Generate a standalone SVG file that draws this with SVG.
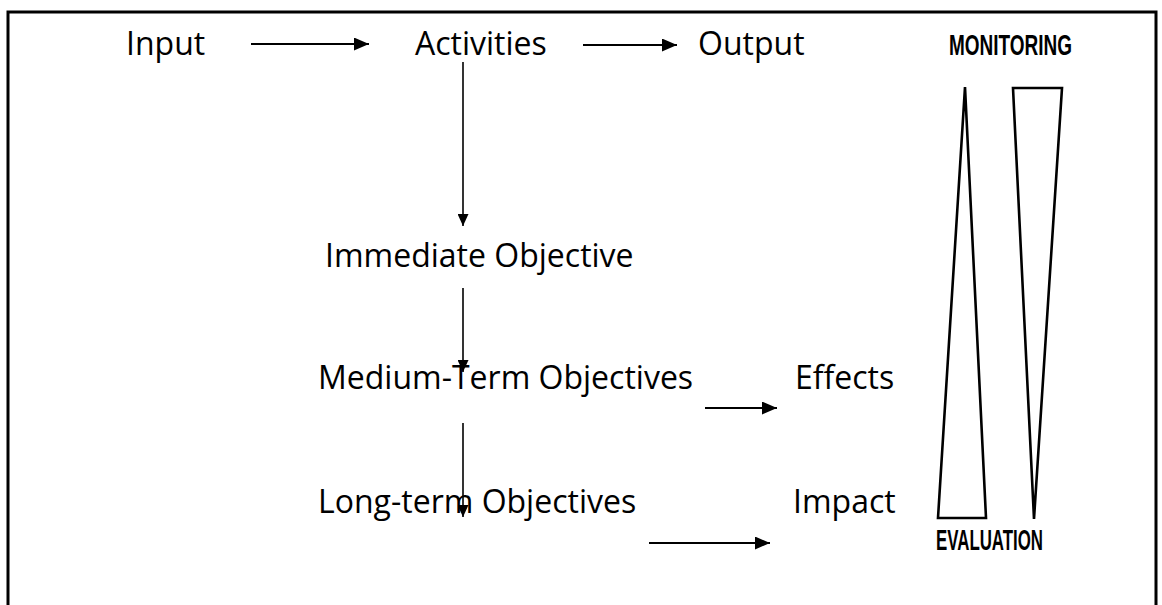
<svg xmlns="http://www.w3.org/2000/svg" width="1162" height="605" viewBox="0 0 1162 605">
<defs>
<style>
.t{font-family:"Open Sans","DejaVu Sans",sans-serif;font-size:32px;fill:#000}
.b{font-family:"Liberation Sans","DejaVu Sans",sans-serif;font-size:29px;font-weight:bold;fill:#000}
.c{stroke:#000;stroke-width:2;fill:none}
.v{stroke:#000;stroke-width:1.6;fill:none}
.tri{stroke:#000;stroke-width:2.6;fill:#fff;stroke-linejoin:miter}
</style>
<marker id="ah" markerUnits="userSpaceOnUse" markerWidth="15" markerHeight="13" refX="15" refY="6.5" orient="auto"><path d="M0,0 L15,6.5 L0,13 z" fill="#000"/></marker>
<marker id="av" markerUnits="userSpaceOnUse" markerWidth="12" markerHeight="11" refX="12" refY="5.5" orient="auto"><path d="M0,0 L12,5.5 L0,11 z" fill="#000"/></marker>
</defs>
<rect width="1162" height="605" fill="#fff"/>
<g id="frame"><path d="M8,605 L8,12 L1156,12 L1156,605" stroke="#000" stroke-width="3" fill="none"/></g>
<g id="input"><text class="t" x="126" y="55">Input</text></g>
<g id="activities"><text class="t" x="415" y="55">Activities</text></g>
<g id="output"><text class="t" x="698" y="55">Output</text></g>
<g id="immediate"><text class="t" x="325" y="267">Immediate Objective</text></g>
<g id="medium"><text class="t" x="318" y="389">Medium-Term Objectives</text></g>
<g id="effects"><text class="t" x="795" y="389">Effects</text></g>
<g id="longterm"><text class="t" x="318" y="513">Long-term Objectives</text></g>
<g id="impact"><text class="t" x="793" y="513">Impact</text></g>
<g id="monitoring"><text class="b" x="949" y="55" textLength="123" lengthAdjust="spacingAndGlyphs">MONITORING</text>
<polygon class="tri" points="965,87 986,518 938,518"/></g>
<g id="evaluation"><text class="b" x="936" y="550" textLength="107" lengthAdjust="spacingAndGlyphs">EVALUATION</text>
<polygon class="tri" points="1013,88 1062,88 1034,519"/></g>
<g id="connectors">
<line class="c" x1="251" y1="44" x2="369" y2="44" marker-end="url(#ah)"/>
<line class="c" x1="583" y1="45" x2="677" y2="45" marker-end="url(#ah)"/>
<line class="c" x1="705" y1="408" x2="777" y2="408" marker-end="url(#ah)"/>
<line class="c" x1="649" y1="543" x2="770" y2="543" marker-end="url(#ah)"/>
<line class="v" x1="463" y1="62" x2="463" y2="226" marker-end="url(#av)"/>
<line class="v" x1="463" y1="288" x2="463" y2="372" marker-end="url(#av)"/>
<line class="v" x1="463" y1="423" x2="463" y2="517" marker-end="url(#av)"/>
</g>
</svg>
